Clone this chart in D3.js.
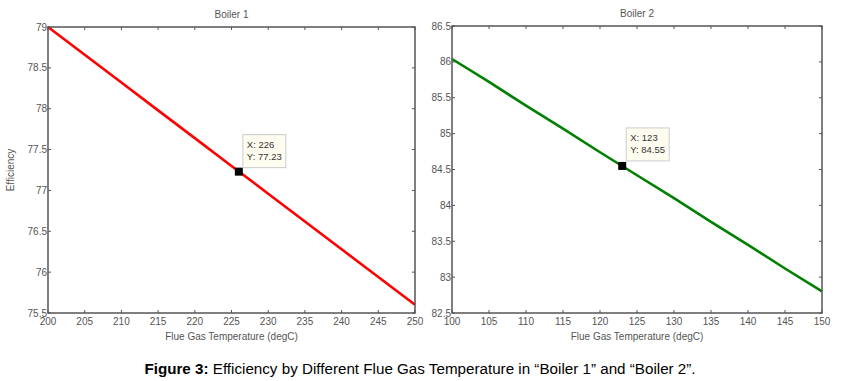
<!DOCTYPE html>
<html>
<head>
<meta charset="utf-8">
<script src="https://cdn.jsdelivr.net/npm/d3@7"></script>
<style>
  body { margin: 0; background: #fff; }
  svg { display: block; }
</style>
</head>
<body>
<div class="canvas"></div>
<script>
const width = 843
const height = 381

// boiler 1 (read every 5 degC)
const temps1 = [200, 205, 210, 215, 220, 225, 230, 235, 240, 245, 250]
const eff1 = [79.0, 78.66, 78.32, 77.98, 77.64, 77.30, 76.96, 76.62, 76.28, 75.94, 75.60]
const xTicks1 = [200, 205, 210, 215, 220, 225, 230, 235, 240, 245, 250]
const yTicks1 = [75.5, 76, 76.5, 77, 77.5, 78, 78.5, 79]
const tip1 = {x: 226, y: 77.23}

// boiler 2
const temps2 = [100, 105, 110, 115, 120, 125, 130, 135, 140, 145, 150]
const eff2 = [86.04, 85.72, 85.39, 85.07, 84.74, 84.42, 84.10, 83.77, 83.45, 83.12, 82.80]
const xTicks2 = [100, 105, 110, 115, 120, 125, 130, 135, 140, 145, 150]
const yTicks2 = [82.5, 83, 83.5, 84, 84.5, 85, 85.5, 86, 86.5]
const tip2 = {x: 123, y: 84.55}

const tickFont = 'Arial, "Liberation Sans", sans-serif'
const textGray = '#555'
const axisGray = '#555'

const svg = d3.select('.canvas')
  .append('svg')
  .attr('width', width)
  .attr('height', height)
  .attr('viewBox', `0 0 ${width} ${height}`)

function panel (opt) {
  const x = d3.scaleLinear().domain(opt.xDomain).range([opt.left, opt.right])
  const y = d3.scaleLinear().domain(opt.yDomain).range([opt.bottom, opt.top])
  const g = svg.append('g')

  // ticks, inward on all four sides
  const tl = 3
  g.selectAll('.xtb').data(opt.xTicks).enter().append('line')
    .attr('x1', d => x(d)).attr('x2', d => x(d))
    .attr('y1', opt.bottom).attr('y2', opt.bottom - tl)
    .attr('stroke', axisGray).attr('stroke-width', 1)
  g.selectAll('.xtt').data(opt.xTicks).enter().append('line')
    .attr('x1', d => x(d)).attr('x2', d => x(d))
    .attr('y1', opt.top).attr('y2', opt.top + tl)
    .attr('stroke', axisGray).attr('stroke-width', 1)
  g.selectAll('.ytl').data(opt.yTicks).enter().append('line')
    .attr('y1', d => y(d)).attr('y2', d => y(d))
    .attr('x1', opt.left).attr('x2', opt.left + tl)
    .attr('stroke', axisGray).attr('stroke-width', 1)
  g.selectAll('.ytr').data(opt.yTicks).enter().append('line')
    .attr('y1', d => y(d)).attr('y2', d => y(d))
    .attr('x1', opt.right).attr('x2', opt.right - tl)
    .attr('stroke', axisGray).attr('stroke-width', 1)

  // tick labels
  g.selectAll('.xl').data(opt.xTicks).enter().append('text')
    .attr('x', d => x(d)).attr('y', opt.bottom + 12)
    .attr('text-anchor', 'middle')
    .attr('font-family', tickFont).attr('font-size', 10)
    .attr('fill', textGray)
    .text(d => d)
  g.selectAll('.yl').data(opt.yTicks).enter().append('text')
    .attr('x', opt.left - 1).attr('y', d => y(d) + 3.5)
    .attr('text-anchor', 'end')
    .attr('font-family', tickFont).attr('font-size', 10)
    .attr('fill', textGray)
    .text(d => d)

  // data line
  const line = d3.line().x(d => x(d[0])).y(d => y(d[1]))
  g.append('path')
    .datum(opt.temps.map((t, i) => [t, opt.eff[i]]))
    .attr('d', line)
    .attr('fill', 'none')
    .attr('stroke', opt.color)
    .attr('stroke-width', 2.6)

  // box
  g.append('rect')
    .attr('x', opt.left).attr('y', opt.top)
    .attr('width', opt.right - opt.left).attr('height', opt.bottom - opt.top)
    .attr('fill', 'none').attr('stroke', axisGray).attr('stroke-width', 1.5)

  // data tip
  const px = x(opt.tip.x), py = y(opt.tip.y)
  g.append('rect')
    .attr('x', px - 4).attr('y', py - 4).attr('width', 8).attr('height', 8)
    .attr('fill', '#000')
  const tg = g.append('g').attr('transform', `translate(${px + 4}, ${py - opt.tipUp})`)
  tg.append('rect')
    .attr('width', 43).attr('height', 33)
    .attr('fill', '#fffdf0').attr('stroke', '#ccc').attr('stroke-width', 1)
  tg.append('text').attr('x', 4).attr('y', 13)
    .attr('font-family', tickFont).attr('font-size', 9.5).attr('fill', '#333')
    .text('X: ' + opt.tip.x)
  tg.append('text').attr('x', 4).attr('y', 25)
    .attr('font-family', tickFont).attr('font-size', 9.5).attr('fill', '#333')
    .text('Y: ' + opt.tip.y)

  // titles
  g.append('text')
    .attr('x', (opt.left + opt.right) / 2).attr('y', opt.top - 9)
    .attr('text-anchor', 'middle')
    .attr('font-family', tickFont).attr('font-size', 10).attr('fill', textGray)
    .text(opt.title)
  g.append('text')
    .attr('x', (opt.left + opt.right) / 2).attr('y', opt.bottom + 27)
    .attr('text-anchor', 'middle')
    .attr('font-family', tickFont).attr('font-size', 10).attr('fill', textGray)
    .text('Flue Gas Temperature (degC)')
  if (opt.ylabel) {
    g.append('text')
      .attr('transform', `translate(${opt.left - 34}, ${(opt.top + opt.bottom) / 2}) rotate(-90)`)
      .attr('text-anchor', 'middle')
      .attr('font-family', tickFont).attr('font-size', 10).attr('fill', textGray)
      .text(opt.ylabel)
  }
}

panel({
  left: 48, right: 415, top: 27, bottom: 313,
  xDomain: [200, 250], yDomain: [75.5, 79],
  xTicks: xTicks1, yTicks: yTicks1,
  temps: temps1, eff: eff1, tip: tip1, tipUp: 37,
  color: '#ff0000', title: 'Boiler 1', ylabel: 'Efficiency'
})

panel({
  left: 452, right: 822, top: 26, bottom: 313,
  xDomain: [100, 150], yDomain: [82.5, 86.5],
  xTicks: xTicks2, yTicks: yTicks2,
  temps: temps2, eff: eff2, tip: tip2, tipUp: 38,
  color: '#008000', title: 'Boiler 2', ylabel: null
})

// caption
const cap = svg.append('text')
  .attr('x', 420).attr('y', 374)
  .attr('text-anchor', 'middle')
  .attr('font-family', tickFont).attr('font-size', 15.2).attr('fill', '#000')
cap.append('tspan').attr('font-weight', 'bold').text('Figure 3:')
cap.append('tspan').text(' Efficiency by Different Flue Gas Temperature in \u201cBoiler 1\u201d and \u201cBoiler 2\u201d.')
</script>
</body>
</html>
